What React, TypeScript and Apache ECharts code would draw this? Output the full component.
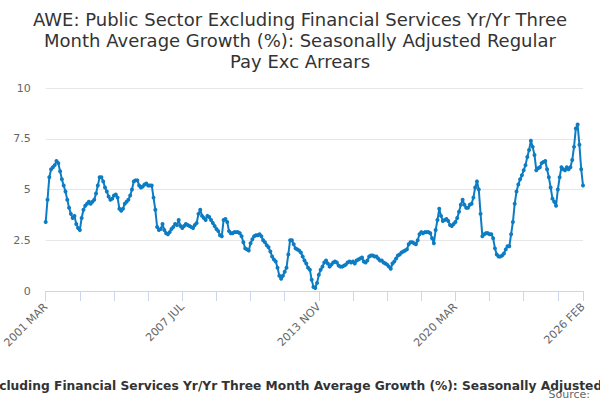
import React, { useEffect, useRef } from "react";
import * as echarts from "echarts";

const MONTHS = ["JAN", "FEB", "MAR", "APR", "MAY", "JUN", "JUL", "AUG", "SEP", "OCT", "NOV", "DEC"];
const START_YEAR = 2001;
const START_MONTH = 2; // MAR

const TITLE =
  "AWE: Public Sector Excluding Financial Services Yr/Yr Three\nMonth Average Growth (%): Seasonally Adjusted Regular\nPay Exc Arrears";
const SERIES_NAME =
  "AWE: Public Sector Excluding Financial Services Yr/Yr Three Month Average Growth (%): Seasonally Adjusted Regular Pay Exc Arrears";
const SOURCE = "Source:";

const values: number[] = [
  3.4, 4.5, 5.6, 6.0, 6.1, 6.2, 6.4, 6.3, 5.9, 5.5,
  5.2, 4.9, 4.5, 4.1, 3.8, 3.6, 3.7, 3.3, 3.1, 3.0,
  3.6, 4.0, 4.2, 4.3, 4.4, 4.3, 4.4, 4.5, 4.8, 5.2,
  5.6, 5.6, 5.4, 5.1, 4.9, 4.65, 4.5, 4.55, 4.7, 4.75,
  4.6, 4.05, 3.95, 4.05, 4.3, 4.4, 4.5, 4.7, 5.0, 5.4,
  5.45, 5.45, 5.2, 5.1, 5.15, 5.25, 5.3, 5.2, 5.2, 5.2,
  4.6, 4.0, 3.15, 3.0, 3.05, 3.3, 3.0, 2.85, 2.8, 2.9,
  3.05, 3.15, 3.3, 3.25, 3.5, 3.2, 3.1, 3.2, 3.3, 3.25,
  3.2, 3.15, 3.1, 3.25, 3.35, 3.8, 4.0, 3.7, 3.6, 3.5,
  3.7, 3.65, 3.5, 3.35, 3.2, 3.05, 2.95, 2.75, 2.7, 3.5,
  3.55, 3.4, 2.95, 2.85, 2.85, 2.9, 2.9, 2.9, 2.85, 2.7,
  2.4, 2.1, 2.05, 2.0, 2.35, 2.55, 2.7, 2.75, 2.75, 2.8,
  2.7, 2.5, 2.4, 2.25, 2.15, 1.95, 1.7, 1.55, 1.45, 1.15,
  0.75, 0.6, 0.75, 0.95, 1.15, 1.8, 2.5, 2.5, 2.3, 2.1,
  2.05, 2.0, 1.9, 1.7, 1.5, 1.35, 1.15, 1.05, 0.55, 0.2,
  0.15, 0.4, 0.8, 1.05, 1.2, 1.4, 1.5, 1.35, 1.2, 1.3,
  1.4, 1.45, 1.4, 1.25, 1.2, 1.2, 1.25, 1.3, 1.4, 1.45,
  1.4, 1.45, 1.35, 1.5, 1.55, 1.6, 1.65, 1.45, 1.4, 1.5,
  1.7, 1.75, 1.75, 1.7, 1.7, 1.6, 1.5, 1.5, 1.4, 1.35,
  1.3, 1.2, 1.1, 1.35, 1.45, 1.6, 1.75, 1.8, 1.9, 1.95,
  2.0, 2.05, 2.3, 2.4, 2.4, 2.35, 2.3, 2.5, 2.8, 2.9,
  2.85, 2.9, 2.9, 2.9, 2.85, 2.6, 2.35, 3.0, 3.5, 4.05,
  3.7, 3.45, 3.5, 3.55, 3.45, 3.25, 3.2, 3.3, 3.4, 3.6,
  3.9, 4.25, 4.5, 4.25, 4.1, 4.1, 4.25, 4.3, 4.6, 5.1,
  5.4, 5.0, 3.8, 2.7, 2.8, 2.85, 2.85, 2.8, 2.8, 2.6,
  2.1, 1.8, 1.7, 1.7, 1.75, 1.85, 2.05, 2.2, 2.2, 2.8,
  3.4, 4.3, 4.9, 5.25, 5.5, 5.7, 5.95, 6.2, 6.6, 6.95,
  7.4, 7.1, 6.7, 5.95, 6.05, 6.1, 6.3, 6.35, 6.4, 6.0,
  5.6, 5.1, 4.55, 4.4, 4.2, 5.0, 5.6, 6.1, 6.0, 5.95,
  6.1, 6.0, 6.1, 6.45, 7.1, 8.0, 8.2, 7.2, 6.0, 5.2,
];

const categories: string[] = values.map((_, i) => {
  const m = START_MONTH + i;
  return `${START_YEAR + Math.floor(m / 12)} ${MONTHS[m % 12]}`;
});

const Y_MIN = 0;
const Y_MAX = 10;
const Y_STEP = 2.5;
const TICK_EVERY = 19;
const LABEL_EVERY = 76;

const FONT = "DejaVu Sans";

export default function App() {
  const ref = useRef<HTMLDivElement>(null);

  useEffect(() => {
    document.body.style.margin = "0";
    if (!ref.current) return;
    const chart = echarts.init(ref.current, null, { renderer: "svg" });
    const last = categories.length - 1;
    chart.setOption({
      animation: false,
      textStyle: { fontFamily: FONT },
      title: {
        text: TITLE,
        left: "center",
        top: 4,
        textStyle: {
          fontFamily: FONT,
          fontSize: 18,
          fontWeight: "normal",
          color: "#333333",
          lineHeight: 21,
        },
      },
      grid: { left: 42, right: 17, top: 88, bottom: 109, containLabel: false },
      xAxis: {
        type: "category",
        data: categories,
        boundaryGap: false,
        axisLine: { lineStyle: { color: "#ccd6eb", width: 1 } },
        axisTick: {
          length: 10,
          lineStyle: { color: "#ccd6eb" },
          interval: (idx: number) => idx % TICK_EVERY === 0 || idx === last,
        },
        axisLabel: {
          rotate: 45,
          color: "#666666",
          fontSize: 11,
          fontFamily: FONT,
          margin: 14,
          interval: (idx: number) => idx % LABEL_EVERY === 0 || idx === last,
        },
        splitLine: { show: false },
      },
      yAxis: {
        type: "value",
        min: Y_MIN,
        max: Y_MAX,
        interval: Y_STEP,
        axisLine: { show: false },
        axisTick: { show: false },
        axisLabel: { color: "#666666", fontSize: 11, fontFamily: FONT, margin: 15 },
        splitLine: { lineStyle: { color: "#e6e6e6", width: 1 } },
      },
      series: [
        {
          name: SERIES_NAME,
          type: "line",
          data: values,
          symbol: "circle",
          symbolSize: 4,
          showSymbol: true,
          showAllSymbol: true,
          lineStyle: { color: "#0d7cc3", width: 2 },
          itemStyle: { color: "#0d7cc3" },
        },
      ],
      graphic: [
        {
          type: "text",
          x: 310,
          y: 380,
          style: {
            text: SERIES_NAME,
            textAlign: "center",
            fontFamily: FONT,
            fontSize: 12.25,
            fontWeight: "bold",
            fill: "#333333",
          },
        },
        {
          type: "text",
          right: 10,
          top: 389,
          style: {
            text: SOURCE,
            fontFamily: FONT,
            fontSize: 11,
            fill: "#666666",
          },
        },
      ],
    });
    return () => chart.dispose();
  }, []);

  return <div ref={ref} style={{ width: 600, height: 400 }} />;
}
